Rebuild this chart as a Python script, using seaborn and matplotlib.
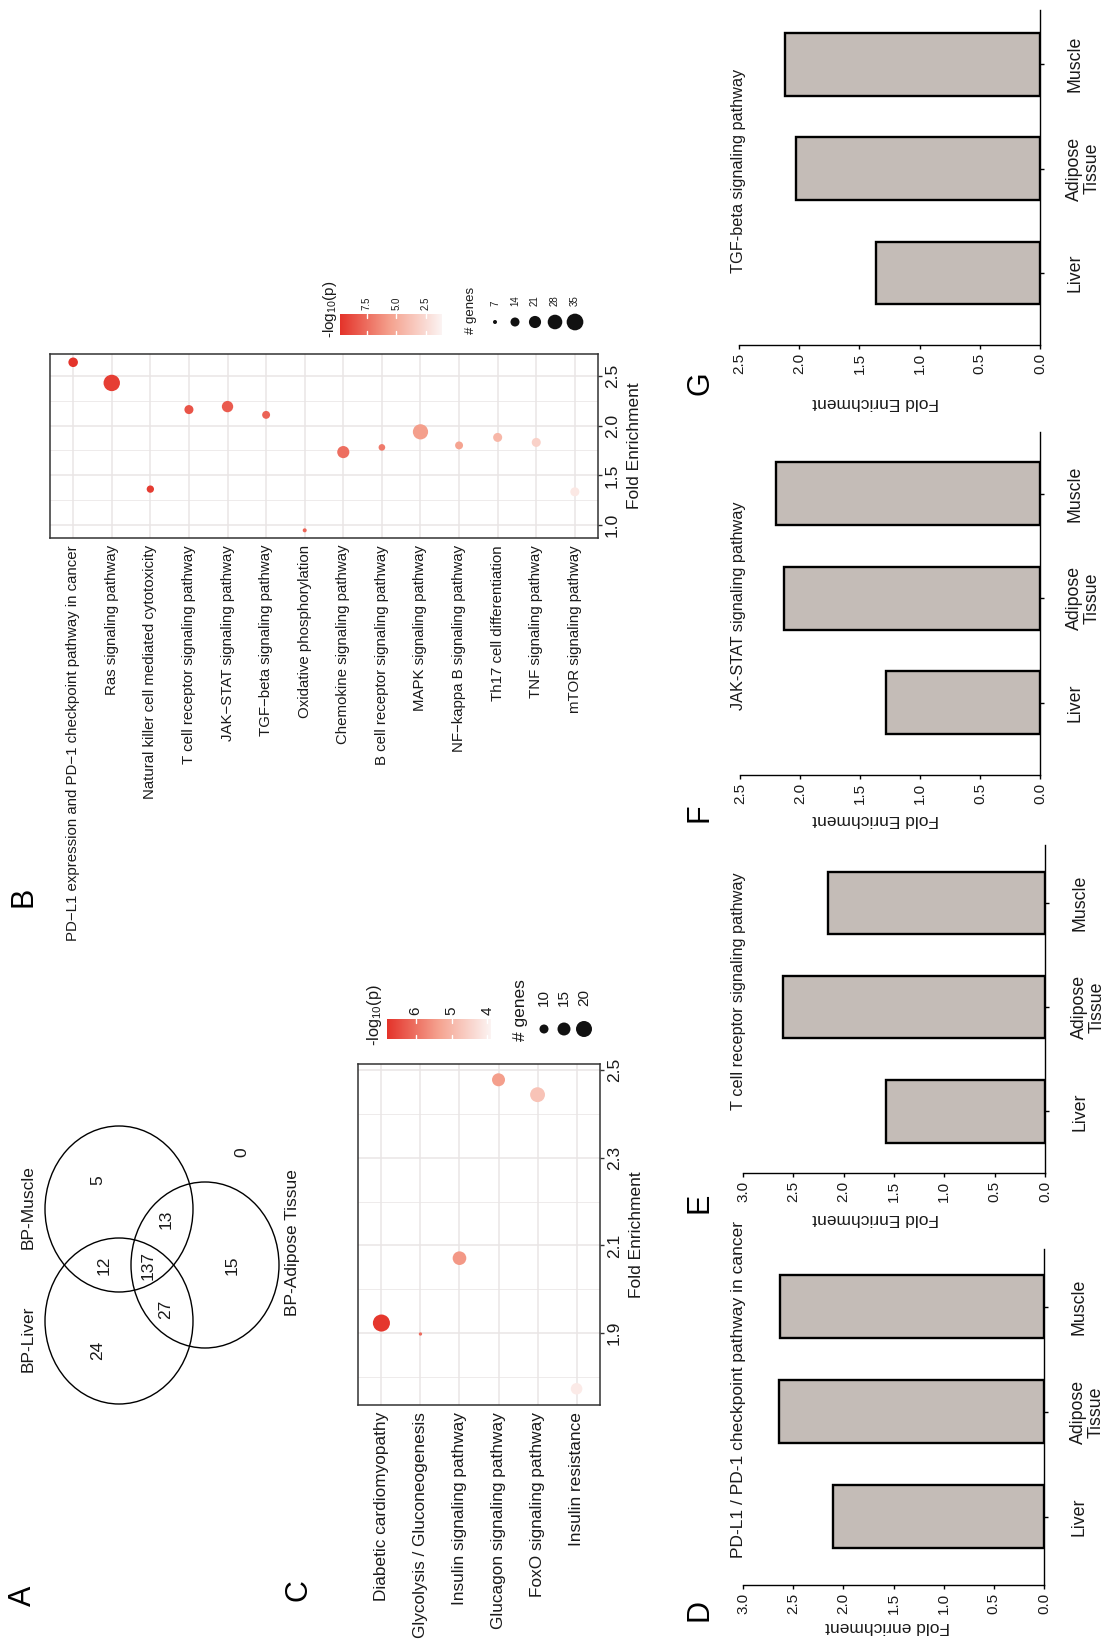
import numpy as np
import pandas as pd
import matplotlib
matplotlib.use("Agg")
import matplotlib.pyplot as plt
from matplotlib.patches import Ellipse
from matplotlib.colors import LinearSegmentedColormap
import seaborn as sns

# ---------------------------------------------------------------- data
# A: overlap of enriched biological processes
venn_sets = ["BP-Liver", "BP-Muscle", "BP-Adipose Tissue"]
venn_regions = ["Liver", "Muscle", "Adipose", "Liver+Muscle", "Liver+Adipose",
                "Muscle+Adipose", "All", "None"]
venn_counts = [24, 5, 15, 12, 27, 13, 137, 0]

# B: KEGG pathways shared by the three tissues
b_pathways = [
    "PD\u2212L1 expression and PD\u22121 checkpoint pathway in cancer",
    "Ras signaling pathway",
    "Natural killer cell mediated cytotoxicity",
    "T cell receptor signaling pathway",
    "JAK\u2212STAT signaling pathway",
    "TGF\u2212beta signaling pathway",
    "Oxidative phosphorylation",
    "Chemokine signaling pathway",
    "B cell receptor signaling pathway",
    "MAPK signaling pathway",
    "NF\u2212kappa B signaling pathway",
    "Th17 cell differentiation",
    "TNF signaling pathway",
    "mTOR signaling pathway",
]
b_fold = [2.634, 2.427, 1.363, 2.160, 2.190, 2.107, 0.950,
          1.734, 1.781, 1.937, 1.801, 1.881, 1.831, 1.336]
b_logp = [9.7, 9.3, 9.4, 8.5, 8.2, 7.9, 7.8, 7.5, 7.0, 5.6, 5.4, 4.4, 3.0, 1.8]
b_genes = [15, 34, 11, 14, 19, 12, 7, 21, 10, 30, 12, 14, 14, 14]

# C: KEGG pathways, adipose tissue
c_pathways = [
    "Diabetic cardiomyopathy",
    "Glycolysis / Gluconeogenesis",
    "Insulin signaling pathway",
    "Glucagon signaling pathway",
    "FoxO signaling pathway",
    "Insulin resistance",
]
c_fold = [1.923, 1.898, 2.071, 2.478, 2.444, 1.773]
c_logp = [6.75, 6.08, 5.50, 5.42, 4.80, 4.10]
c_genes = [22, 6, 16, 15, 18, 13]

# D-G: fold enrichment per tissue
tissues = ["Liver", "Adipose\nTissue", "Muscle"]
fe_pdl1 = [2.10, 2.645, 2.63]
fe_tcr = [1.58, 2.60, 2.155]
fe_jak = [1.283, 2.133, 2.20]
fe_tgf = [1.358, 2.03, 2.115]

# legend keys
b_size_keys = [7, 14, 21, 28, 35]
b_color_keys = [7.5, 5.0, 2.5]
c_size_keys = [10, 15, 20]
c_color_keys = [6, 5, 4]

# ---------------------------------------------------------------- style
sns.set_theme(style="white")
plt.rcParams["font.family"] = ["Liberation Sans", "DejaVu Sans"]
plt.rcParams["mathtext.fontset"] = "custom"
plt.rcParams["mathtext.rm"] = "Liberation Sans"
plt.rcParams["mathtext.it"] = "Liberation Sans:italic"

W, H, DPI = 1106, 1645, 100
TXT = "#1a1a1a"
FRAME = "#333333"
GRID = "#E9E5E5"
BAR_FILL = "#C4BCB7"
CMAP = LinearSegmentedColormap.from_list("logp", ["#FCF4F3", "#F5A390", "#E4332A"])

fig = plt.figure(figsize=(W / DPI, H / DPI), dpi=DPI)
fig.patch.set_facecolor("white")


def rect(x0, y0, x1, y1):
    """Pixel box (top-left origin) -> figure fraction rect."""
    return [x0 / W, 1 - y1 / H, (x1 - x0) / W, (y1 - y0) / H]


def ftext(x, y, s, **kw):
    kw.setdefault("color", TXT)
    fig.text(x / W, 1 - y / H, s, **kw)


# pixel-space overlay for the Venn diagram and legend keys
ov = fig.add_axes([0, 0, 1, 1])
ov.set_xlim(0, W)
ov.set_ylim(H, 0)
ov.axis("off")
ov.patch.set_alpha(0)

# ---------------------------------------------------------------- panel A
rx, ry = 74, 83
circle_centers = {"BP-Liver": (119, 1321), "BP-Muscle": (119, 1209),
                  "BP-Adipose Tissue": (205, 1265)}
for name in venn_sets:
    cx, cy = circle_centers[name]
    ov.add_patch(Ellipse((cx, cy), 2 * rx, 2 * ry, fill=False,
                         edgecolor="black", lw=1.0))
set_label_pos = {"BP-Liver": (28, 1339), "BP-Muscle": (28, 1207),
                 "BP-Adipose Tissue": (293, 1243)}
for name in venn_sets:
    x, y = set_label_pos[name]
    ftext(x, y, name, rotation=90, ha="center", va="center", fontsize=12.5)
region_pos = {"Liver": (98, 1350), "Muscle": (98, 1180), "Adipose": (232, 1265),
              "Liver+Muscle": (104, 1265), "Liver+Adipose": (166, 1309),
              "Muscle+Adipose": (166, 1219), "All": (148, 1265), "None": (242, 1152)}
for reg, cnt in zip(venn_regions, venn_counts):
    x, y = region_pos[reg]
    ftext(x, y, str(cnt), rotation=90, ha="center", va="center", fontsize=12.5)


# ---------------------------------------------------------------- dot plots
def size_of(v, norm, sizes):
    t = np.clip((np.asarray(v, float) - norm[0]) / (norm[1] - norm[0]), 0, 1)
    return sizes[0] + t * (sizes[1] - sizes[0])


def dot_panel(box, names, fold, logp, genes, hue_norm, size_norm, sizes,
              ylim, yticks, yminor, label_size, tick_size):
    ax = fig.add_axes(rect(*box))
    df = pd.DataFrame({"pos": np.arange(len(names)), "fold": fold,
                       "logp": logp, "genes": genes})
    sns.scatterplot(data=df, x="pos", y="fold", hue="logp", size="genes",
                    palette=CMAP, hue_norm=hue_norm, sizes=sizes,
                    size_norm=size_norm, legend=False, linewidth=0,
                    edgecolor="none", ax=ax, zorder=3)
    ax.set_xlim(-0.6, len(names) - 0.4)
    ax.set_ylim(*ylim)
    ax.set_xticks(range(len(names)))
    ax.set_xticklabels(names, rotation=90, fontsize=label_size, color=TXT)
    ax.yaxis.tick_right()
    ax.yaxis.set_label_position("right")
    ax.set_yticks(yticks)
    ax.set_yticks(yminor, minor=True)
    ax.set_yticklabels([f"{t:.1f}" for t in yticks], rotation=90,
                       fontsize=tick_size, color=TXT, va="center")
    ax.tick_params(axis="both", which="major", length=3, width=1,
                   color=FRAME, pad=2)
    ax.tick_params(axis="y", which="minor", length=0)
    ax.grid(True, which="major", color=GRID, lw=1.1)
    ax.grid(True, which="minor", axis="y", color=GRID, lw=0.55)
    ax.set_axisbelow(True)
    for s in ax.spines.values():
        s.set_visible(True)
        s.set_color(FRAME)
        s.set_linewidth(1.1)
    ax.set_xlabel("")
    ax.set_ylabel("Fold Enrichment", rotation=90, fontsize=12.5, color=TXT,
                  labelpad=5)
    return ax


def colorbar_key(box, vmax, vmin, ticks, tick_size, pad):
    ax = fig.add_axes(rect(*box))
    grad = np.linspace(vmax, vmin, 256)[None, :]
    ax.imshow(grad, extent=[vmax, vmin, 0, 1], aspect="auto", cmap=CMAP,
              vmin=vmin, vmax=vmax)
    ax.set_xlim(vmax, vmin)
    ax.set_ylim(0, 1)
    for t in ticks:
        ax.plot([t, t], [0, 0.2], color="white", lw=1)
        ax.plot([t, t], [0.8, 1], color="white", lw=1)
    ax.set_yticks([])
    ax.xaxis.tick_top()
    ax.set_xticks(ticks)
    ax.set_xticklabels([f"{t:g}" if float(t).is_integer() and len(str(t)) < 3
                        else f"{t:.1f}" for t in ticks],
                       rotation=90, fontsize=tick_size, color=TXT)
    ax.tick_params(axis="x", length=0, pad=pad)
    for s in ax.spines.values():
        s.set_visible(False)
    return ax


# B
B_HUE = (1.14, 9.76)
B_SIZE_NORM = (7, 35)
B_SIZES = (8.3, 144.6)
dot_panel((50, 354, 598, 538), b_pathways, b_fold, b_logp, b_genes,
          B_HUE, B_SIZE_NORM, B_SIZES, (0.873, 2.717),
          [1.0, 1.5, 2.0, 2.5], [1.25, 1.75, 2.25], 10.85, 12.5)
colorbar_key((340, 314, 442, 335), B_HUE[1], B_HUE[0], b_color_keys, 7, 3)
ftext(330, 338, r"-log$_{10}$(p)", rotation=90, ha="center", va="bottom",
      fontsize=11)
ftext(471, 334, "# genes", rotation=90, ha="center", va="bottom", fontsize=9.5)
b_key_x = [495, 515, 535, 555, 575]
ov.scatter(b_key_x, [322] * len(b_key_x),
           s=size_of(b_size_keys, B_SIZE_NORM, B_SIZES), color="#111111",
           linewidths=0)
for x, k in zip(b_key_x, b_size_keys):
    ftext(x, 306, str(k), rotation=90, ha="center", va="bottom", fontsize=7)

# C
C_HUE = (3.93, 6.8)
C_SIZE_NORM = (6, 22)
C_SIZES = (5.7, 151)
dot_panel((358, 1064, 600, 1405), c_pathways, c_fold, c_logp, c_genes,
          C_HUE, C_SIZE_NORM, C_SIZES, (1.736, 2.514),
          [1.9, 2.1, 2.3, 2.5], [1.8, 2.0, 2.2, 2.4], 12.4, 12.5)
colorbar_key((387, 1019, 490, 1039), C_HUE[1], C_HUE[0], c_color_keys, 11, 3)
ftext(375, 1046, r"-log$_{10}$(p)", rotation=90, ha="center", va="bottom",
      fontsize=11.8)
ftext(521, 1041, "# genes", rotation=90, ha="center", va="bottom", fontsize=12.5)
c_key_x = [544, 564, 584]
ov.scatter(c_key_x, [1029] * len(c_key_x),
           s=size_of(c_size_keys, C_SIZE_NORM, C_SIZES), color="#111111",
           linewidths=0)
for x, k in zip(c_key_x, c_size_keys):
    ftext(x, 1006, str(k), rotation=90, ha="center", va="bottom", fontsize=11)


# ---------------------------------------------------------------- bar panels
def bar_panel(box, values, vmax, margins, title, title_y, title_size,
              ylab, ylab_xy):
    ax = fig.add_axes(rect(*box))
    df = pd.DataFrame({"tissue": tissues, "fold": values})
    sns.barplot(data=df, x="fold", y="tissue", order=tissues[::-1],
                orient="h", color=BAR_FILL, saturation=1, edgecolor="black",
                linewidth=1.7, width=0.6, ax=ax)
    lo, hi = margins
    ax.set_ylim(2 + lo, -hi)
    ax.set_xlim(vmax, 0)
    for side in ("top", "left"):
        ax.spines[side].set_visible(False)
    for side in ("right", "bottom"):
        ax.spines[side].set_visible(True)
        ax.spines[side].set_color("black")
        ax.spines[side].set_linewidth(1.0)
    ticks = np.arange(0, vmax + 1e-9, 0.5)
    ax.set_xticks(ticks)
    ax.set_xticklabels([f"{t:.1f}" for t in ticks])
    ax.tick_params(axis="x", bottom=True, length=3, width=1, color="black",
                   labelrotation=90, labelsize=11, pad=3, labelcolor=TXT)
    ax.yaxis.tick_right()
    ax.tick_params(axis="y", right=True, left=False, length=3, width=1,
                   color="black", labelrotation=90, labelsize=12.8, pad=16,
                   labelcolor=TXT)
    plt.setp(ax.get_yticklabels(), va="center", ha="left", ma="center",
             linespacing=1.05)
    ax.set_xlabel("")
    ax.set_ylabel("")
    ax.grid(False)
    ftext(738, title_y, title, rotation=90, ha="center", va="bottom",
          fontsize=title_size)
    ftext(ylab_xy[0], ylab_xy[1], ylab, rotation=180, ha="center",
          va="center", fontsize=12.5)
    return ax


bar_panel((743, 1249, 1044, 1585), fe_pdl1, 3.0, (0.65, 0.55),
          "PD-L1 / PD-1 checkpoint pathway in cancer", 1558, 12.5,
          "Fold enrichment", (888, 1627))
bar_panel((743, 845, 1045, 1173), fe_tcr, 3.0, (0.59, 0.555),
          "T cell receptor signaling pathway", 1110, 11.7,
          "Fold Enrichment", (876, 1218))
bar_panel((740, 432, 1040, 775), fe_jak, 2.5, (0.69, 0.59),
          "JAK-STAT signaling pathway", 710, 11.7,
          "Fold Enrichment", (876, 820))
bar_panel((739, 10, 1040, 345), fe_tgf, 2.5, (0.69, 0.52),
          "TGF-beta signaling pathway", 273, 11.7,
          "Fold Enrichment", (876, 403))

# ---------------------------------------------------------------- panel letters
for letter, (x, y) in {"A": (23, 1596), "B": (23, 897), "C": (298, 1590),
                       "D": (700, 1610), "E": (700, 1203), "F": (700, 813),
                       "G": (700, 383)}.items():
    ftext(x, y, letter, rotation=90, ha="center", va="center", fontsize=22,
          color="black")

fig.savefig("out.png", dpi=DPI, facecolor="white")
